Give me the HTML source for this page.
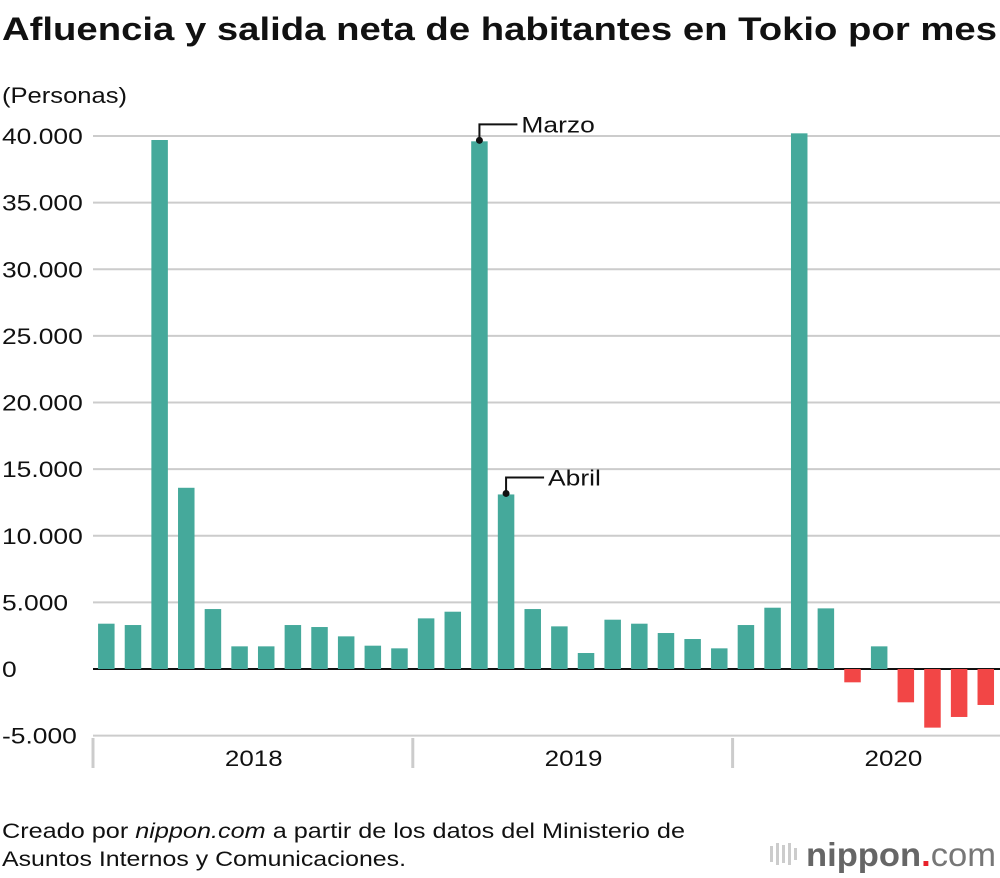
<!DOCTYPE html>
<html><head><meta charset="utf-8"><style>
body{margin:0;background:#fff;font-family:"Liberation Sans",Arial,sans-serif;}
#wrap{position:relative;width:1000px;height:878px;overflow:hidden;}
svg text{font-family:"Liberation Sans",Arial,sans-serif;}
</style></head><body>
<div id="wrap">
<svg id="chart" width="1000" height="878">
<text x="2" y="40" font-size="32" font-weight="bold" fill="#111" textLength="995" lengthAdjust="spacingAndGlyphs">Afluencia y salida neta de habitantes en Tokio por mes</text>
<text x="2" y="103" font-size="22" fill="#111" textLength="125" lengthAdjust="spacingAndGlyphs">(Personas)</text>
<g id="grid"></g><g id="bars"></g><g id="ann"></g>
<text x="2" y="838" font-size="21" fill="#111" textLength="683" lengthAdjust="spacingAndGlyphs">Creado por <tspan font-style="italic">nippon.com</tspan> a partir de los datos del Ministerio de</text>
<text x="2" y="866" font-size="21" fill="#111" textLength="404" lengthAdjust="spacingAndGlyphs">Asuntos Internos y Comunicaciones.</text>
<g>
<g fill="#ccc"><rect x="770" y="846" width="3" height="16"/><rect x="776" y="843" width="3" height="22"/><rect x="782" y="845" width="3" height="18"/><rect x="788" y="843" width="3" height="22"/><rect x="794" y="848" width="3" height="12"/></g>
<text x="806" y="866" font-size="33" fill="#666" font-weight="bold" textLength="190" lengthAdjust="spacingAndGlyphs">nippon<tspan fill="#e8212b">.</tspan><tspan font-weight="normal" fill="#777">com</tspan></text>
</g>
</svg></div>
<script>
const years=["2018","2019","2020"];
const values2018=[3400,3300,39700,13600,4500,1700,1700,3300,3150,2450,1750,1550];
const values2019=[3800,4300,39600,13100,4500,3200,1200,3700,3400,2700,2250,1550];
const values2020=[3300,4600,40200,4550,-1000,1700,-2500,-4400,-3600,-2700];
const yTicks=[-5000,0,5000,10000,15000,20000,25000,30000,35000,40000];
const yTickLabels=["-5.000","0","5.000","10.000","15.000","20.000","25.000","30.000","35.000","40.000"];
const NS="http://www.w3.org/2000/svg";
const x0=93,band=26.65,bw=16.5;
function y(v){return 669-v*(533/40000);}
function xb(i){return x0+i*band+(band-bw)/2;}
function mk(t,a,p){const e=document.createElementNS(NS,t);for(const k in a)e.setAttribute(k,a[k]);p.appendChild(e);return e;}
function stretch(t,f){const w=t.getComputedTextLength();t.setAttribute('textLength',w*f);t.setAttribute('lengthAdjust','spacingAndGlyphs');}
const grid=document.getElementById('grid');
yTicks.forEach((t,i)=>{
 const l=mk('line',{x1:93,x2:1000,y1:y(t),y2:y(t),stroke:t===0?'#111':'#ccc','stroke-width':2},grid);
 
 
 const tx=mk('text',{x:2,y:y(t)+8,'font-size':22,fill:'#111'},grid);
 tx.textContent=yTickLabels[i];
 
 
 stretch(tx,1.2);
});
const all=values2018.concat(values2019,values2020);
years.forEach((yr,i)=>{
 const sx=x0+i*12*band;
 const s=mk('line',{x1:sx,x2:sx,y1:738,y2:768,stroke:'#ccc','stroke-width':3},grid);
 
 
 const t=mk('text',{x:sx+6*band-28,y:766,'font-size':22,fill:'#111'},grid);
 t.textContent=yr;
 
 
 stretch(t,1.18);
});
const bars=document.getElementById('bars');
all.forEach((v,i)=>{
 const r=mk('rect',{x:xb(i),y:Math.min(y(v),y(0)),width:bw,height:Math.abs(y(v)-y(0)),fill:v>=0?'#45a99b':'#f24646'},bars);
 
 
});
const ann=document.getElementById('ann');
function annot(i,label){
 const cx=xb(i)+bw/2, cy=y(all[i])-1;
 mk('circle',{cx:cx,cy:cy,r:3.5,fill:'#111'},ann);
 mk('polyline',{points:`${cx},${cy} ${cx},${cy-16} ${cx+38},${cy-16}`,fill:'none',stroke:'#111','stroke-width':2},ann);
 const t=mk('text',{x:cx+42,y:cy-8,'font-size':22,fill:'#111'},ann);
 t.textContent=label;
 
 
 stretch(t,1.2);
}
annot(14,'Marzo');annot(15,'Abril');
</script>
</body></html>
